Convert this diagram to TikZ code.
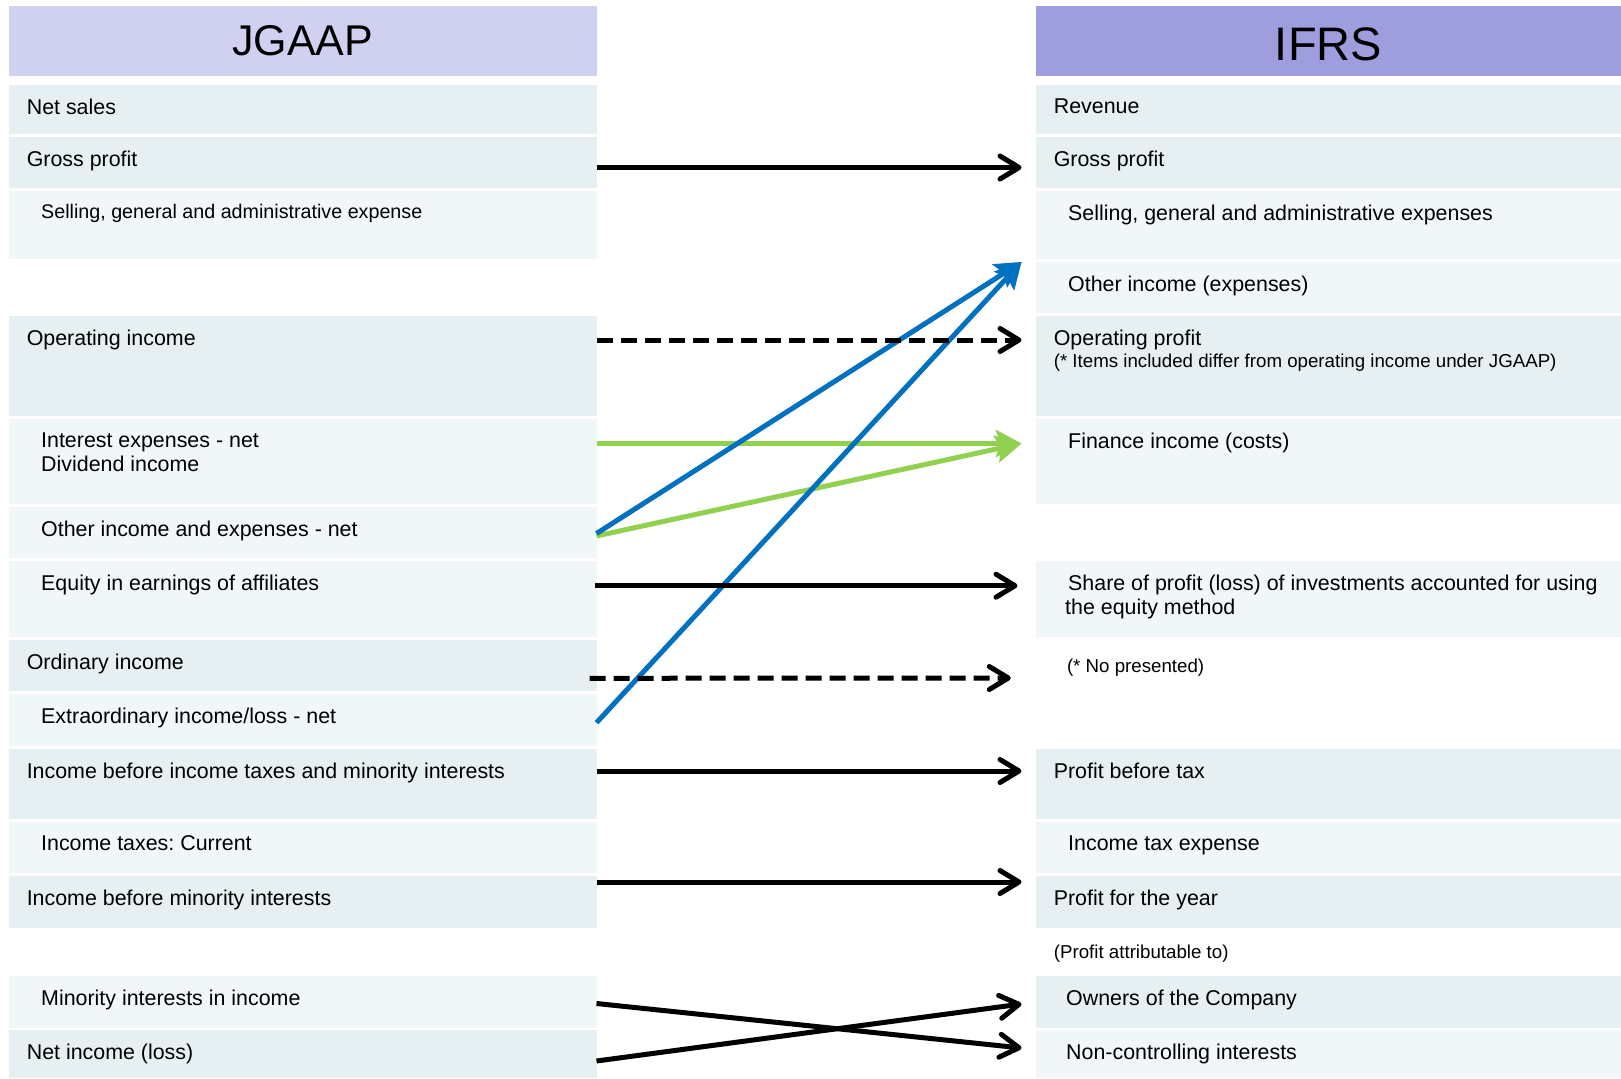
\documentclass[tikz,border=0pt]{standalone}
\usepackage{fontspec}
\setmainfont{Liberation Sans}
\usepackage{xcolor}
\usepackage{tikz}
\definecolor{hdrjgaap} {RGB} {208, 209, 240}
\definecolor{hdrifrs} {RGB} {158, 158, 222}
\definecolor{rowdark} {RGB} {230, 240, 243}
\definecolor{rowlight} {RGB} {241, 246, 249}
\definecolor{mapblue} {RGB} {0, 112, 192}
\definecolor{mapgreen} {RGB} {146, 208, 80}
\usetikzlibrary{arrows.meta}
\usetikzlibrary{calc}
\frenchspacing
\tikzstyle{gaapmap}=[
  x=1pt, y=-1pt, font=\fontsize{21.4}{24.5}\selectfont
]
\tikzstyle{cell}=[
  anchor=north west, inner sep=0pt, outer sep=0pt
]
\tikzstyle{lcell}=[
  cell, minimum width=587.5pt
]
\tikzstyle{rcell}=[
  cell, minimum width=585pt
]
\tikzstyle{dark}=[fill=rowdark]
\tikzstyle{light}=[fill=rowlight]
\tikzstyle{txt}=[
  anchor=north west, inner sep=0pt, align=left
]
\tikzstyle{main}=[
  txt, xshift=17.6pt, yshift=-13.5pt
]
\tikzstyle{sub}=[
  txt, xshift=32pt, yshift=-13.5pt
]
\tikzstyle{note}=[
  txt, font=\fontsize{18.7}{22.6}\selectfont
]
\tikzstyle{mapedge}=[
  line width=5pt, -{Straight Barb[length=19pt, width=23pt, round]}
]
\tikzstyle{mapdash}=[
  mapedge, dash pattern=on 16pt off 8pt
]
\tikzstyle{mapcolour}=[
  line width=5pt, -{Stealth[length=26pt, width=28pt, inset=5pt, line width=1pt]}
]

\begin{document}
\begin{tikzpicture}[gaapmap]
    \useasboundingbox[fill=white] (0,0) rectangle (1621,1078);

    % headers
    \node (jgaap) [lcell, fill=hdrjgaap, minimum height=70pt,
        font=\fontsize{43}{50}\selectfont] at (9,6) {JGAAP};
    \node (ifrs) [rcell, fill=hdrifrs, minimum height=70pt, text height=39pt,
        font=\fontsize{47}{54}\selectfont] at (1036,6) {IFRS};

    % JGAAP lines
    \node (lsales) [lcell, dark, minimum height=49pt,
        label={[main]north west:{Net sales}}] at (9,85) {};
    \node (lgross) [lcell, dark, minimum height=51pt,
        label={[main]north west:{Gross profit}}] at (9,137) {};
    \node (lsga) [lcell, light, minimum height=68pt,
        label={[sub, font=\fontsize{19.7}{24}\selectfont]north west:{Selling, general and administrative expense}}] at (9,191) {};
    \node (lopinc) [lcell, dark, minimum height=100pt,
        label={[main]north west:{Operating income}}] at (9,316) {};
    \node (lint) [lcell, light, minimum height=85pt,
        label={[sub]north west:{Interest expenses - net\\Dividend income}}] at (9,419) {};
    \node (lother) [lcell, light, minimum height=51pt,
        label={[sub]north west:{Other income and expenses - net}}] at (9,507) {};
    \node (lequity) [lcell, light, minimum height=76pt,
        label={[sub]north west:{Equity in earnings of affiliates}}] at (9,561) {};
    \node (lord) [lcell, dark, minimum height=51pt,
        label={[main]north west:{Ordinary income}}] at (9,640) {};
    \node (lextra) [lcell, light, minimum height=52pt,
        label={[sub]north west:{Extraordinary income/loss - net}}] at (9,694) {};
    \node (libt) [lcell, dark, minimum height=70pt,
        label={[main]north west:{Income before income taxes and minority interests}}] at (9,749) {};
    \node (ltax) [lcell, light, minimum height=51pt,
        label={[sub]north west:{Income taxes: Current}}] at (9,822) {};
    \node (libmi) [lcell, dark, minimum height=52pt,
        label={[main]north west:{Income before minority interests}}] at (9,876) {};
    \node (lmin) [lcell, light, minimum height=52pt,
        label={[sub]north west:{Minority interests in income}}] at (9,976) {};
    \node (lnetinc) [lcell, dark, minimum height=48pt,
        label={[main]north west:{Net income (loss)}}] at (9,1030) {};

    % IFRS lines
    \node (rrev) [rcell, dark, minimum height=49pt,
        label={[main]north west:{Revenue}}] at (1036,85) {};
    \node (rgross) [rcell, dark, minimum height=51pt,
        label={[main]north west:{Gross profit}}] at (1036,137) {};
    \node (rsga) [rcell, light, minimum height=68pt,
        label={[sub]north west:{Selling, general and administrative expenses}}] at (1036,191) {};
    \node (rother) [rcell, light, minimum height=51pt,
        label={[sub]north west:{Other income (expenses)}}] at (1036,262) {};
    \node (roppro) [rcell, dark, minimum height=100pt,
        label={[main]north west:{Operating profit\\[-2pt]{\fontsize{18.7}{22.6}\selectfont (* Items included differ from operating income under JGAAP)}}}] at (1036,316) {};
    \node (rfin) [rcell, light, minimum height=85pt,
        label={[sub]north west:{Finance income (costs)}}] at (1036,419) {};
    \node (rshare) [rcell, light, minimum height=76pt,
        label={[sub]north west:{Share of profit (loss) of investments accounted for using\\\hspace*{-3pt}the equity method}}] at (1036,561) {};
    \node (rnopres) [note] at (1066.8,659) {(* No presented)};
    \node (rpbt) [rcell, dark, minimum height=70pt,
        label={[main]north west:{Profit before tax}}] at (1036,749) {};
    \node (rtax) [rcell, light, minimum height=51pt,
        label={[sub]north west:{Income tax expense}}] at (1036,822) {};
    \node (rpfy) [rcell, dark, minimum height=52pt,
        label={[main]north west:{Profit for the year}}] at (1036,876) {};
    \node (rattr) [note] at (1053.7,945) {(Profit attributable to)};
    \node (rowners) [rcell, dark, minimum height=52pt,
        label={[sub, xshift=-2pt]north west:{Owners of the Company}}] at (1036,976) {};
    \node (rnci) [rcell, light, minimum height=48pt,
        label={[sub, xshift=-2pt]north west:{Non-controlling interests}}] at (1036,1030) {};

    % mapping arrows
    \draw [mapcolour, draw=mapgreen] ($(lint.north east) + (0, 24.5)$) -- ($(rfin.north west) + (-14.5, 24.5)$);
    \draw [mapcolour, draw=mapgreen] ($(lother.north east) + (0, 29)$) -- ($(rfin.north west) + (-14.5, 24.5)$);
    \draw [mapcolour, draw=mapblue] ($(lother.north east) + (0, 26.5)$) -- ($(rother.north west) + (-14.5, 0)$);
    \draw [mapcolour, draw=mapblue] ($(lextra.north east) + (0, 28.7)$) -- ($(rother.north west) + (-14.5, 0)$);

    \draw [mapedge] ($(lgross.north east) + (0, 30.5)$) -- ($(rgross.north west) + (-14.5, 30.5)$);
    \draw [mapdash] ($(lopinc.north east) + (0, 24)$) -- ($(roppro.north west) + (-14.5, 24)$);
    \draw [mapedge] ($(lequity.north east) + (-2, 24.7)$) -- ($(rshare.north west) + (-18.5, 24.7)$);
    \draw [mapdash] ($(lord.north east) + (-7, 38.3)$) -- ($(rnopres.north west) + (-56, 19)$);
    \draw [mapedge] ($(libt.north east) + (0, 22)$) -- ($(rpbt.north west) + (-14.5, 22)$);
    \draw [mapedge] ($(libmi.north east) + (0, 6)$) -- ($(rpfy.north west) + (-14.5, 6)$);
    \draw [mapedge] ($(lmin.north east) + (0, 27.5)$) -- ($(rnci.north west) + (-14.5, 18)$);
    \draw [mapedge] ($(lnetinc.north east) + (0, 31)$) -- ($(rowners.north west) + (-14.5, 28)$);
\end{tikzpicture}
\end{document}
